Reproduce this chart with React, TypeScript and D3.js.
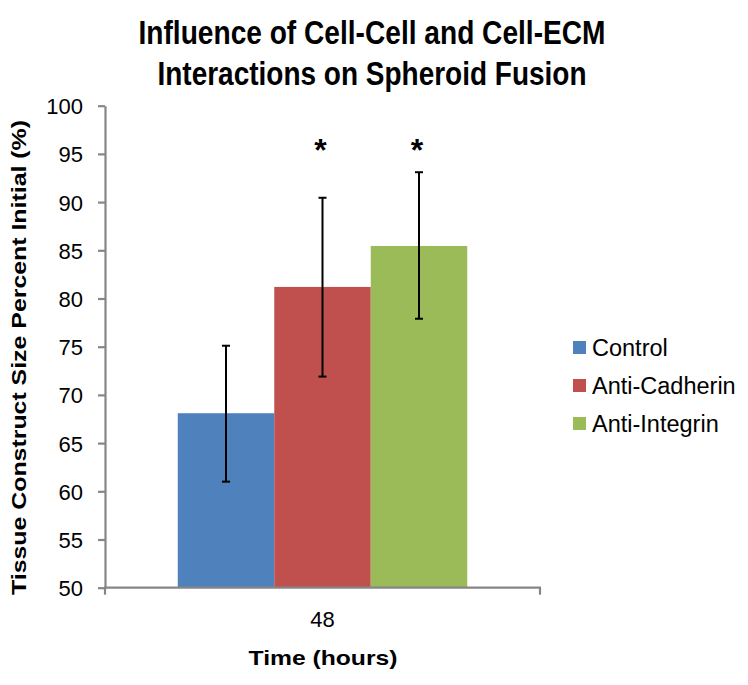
import React, { useEffect, useRef } from "react";
import * as d3 from "d3";

const categories = ["48"];
const seriesNames = ["Control", "Anti-Cadherin", "Anti-Integrin"];
const seriesColors = ["#4F81BD", "#C0504D", "#9BBB59"];
const meanValues = [68.1, 81.2, 85.45];
const errUpper = [75.1, 90.45, 93.1];
const errLower = [61.0, 71.9, 77.9];
const significant = [false, true, true];
const yTicks = [50, 55, 60, 65, 70, 75, 80, 85, 90, 95, 100];
const titleLines = ["Influence of Cell-Cell and Cell-ECM", "Interactions on Spheroid Fusion"];
const yAxisTitle = "Tissue Construct Size Percent Initial  (%)";
const xAxisTitle = "Time (hours)";

const FONT = "'Liberation Sans', Arial, Helvetica, sans-serif";

export default function App() {
  const ref = useRef<SVGSVGElement | null>(null);

  useEffect(() => {
    const svg = d3.select(ref.current);
    svg.selectAll("*").remove();

    const left = 105, right = 540, top = 105.7, bottom = 587.7;
    const y = d3.scaleLinear().domain([50, 100]).range([bottom, top]);
    const x0 = d3.scaleBand<string>().domain(categories).range([left, right]).padding(0);
    const x1 = d3
      .scaleBand<string>()
      .domain(seriesNames)
      .range([0, x0.bandwidth()])
      .paddingInner(0)
      .paddingOuter(0.754);

    // Title
    const titleLens = [467, 429];
    const titleBase = [44, 85];
    titleLines.forEach((t, i) => {
      svg
        .append("text")
        .attr("x", 372)
        .attr("y", titleBase[i])
        .attr("text-anchor", "middle")
        .attr("font-family", FONT)
        .attr("font-weight", "bold")
        .attr("font-size", 33)
        .attr("textLength", titleLens[i])
        .attr("lengthAdjust", "spacingAndGlyphs")
        .attr("fill", "#000")
        .text(t);
    });

    // Bars
    const g = svg.append("g");
    categories.forEach((c) => {
      seriesNames.forEach((s, i) => {
        const bx = (x0(c) as number) + (x1(s) as number);
        g.append("rect")
          .attr("x", bx)
          .attr("y", y(meanValues[i]))
          .attr("width", x1.bandwidth())
          .attr("height", y(50) - y(meanValues[i]))
          .attr("fill", seriesColors[i]);
      });
    });

    // Y axis
    const yAxis = d3
      .axisLeft(y)
      .tickValues(yTicks)
      .tickSize(7)
      .tickSizeOuter(0)
      .tickPadding(15)
      .tickFormat((d) => String(d));
    const yg = svg.append("g").attr("transform", `translate(${left},0)`).call(yAxis);
    yg.select(".domain").attr("stroke", "#868686").attr("stroke-width", 2.2);
    yg.selectAll(".tick line").attr("stroke", "#868686").attr("stroke-width", 2.2);
    yg.selectAll(".tick text")
      .attr("font-family", FONT)
      .attr("font-size", 22)
      .attr("fill", "#000")
      .attr("dy", "0.36em");

    // X axis
    svg
      .append("line")
      .attr("x1", left - 1)
      .attr("x2", right + 1)
      .attr("y1", bottom)
      .attr("y2", bottom)
      .attr("stroke", "#868686")
      .attr("stroke-width", 2.2);
    const bounds = [x0(categories[0]) as number, (x0(categories[categories.length - 1]) as number) + x0.bandwidth()];
    bounds.forEach((bx) => {
      svg
        .append("line")
        .attr("x1", bx)
        .attr("x2", bx)
        .attr("y1", bottom)
        .attr("y2", bottom + 7)
        .attr("stroke", "#868686")
        .attr("stroke-width", 2.2);
    });
    categories.forEach((c) => {
      svg
        .append("text")
        .attr("x", (x0(c) as number) + x0.bandwidth() / 2)
        .attr("y", 626.5)
        .attr("text-anchor", "middle")
        .attr("font-family", FONT)
        .attr("font-size", 22)
        .attr("fill", "#000")
        .text(c);
    });

    // Error bars
    categories.forEach((c) => {
      seriesNames.forEach((s, i) => {
        const cx = (x0(c) as number) + (x1(s) as number) + x1.bandwidth() / 2;
        const eg = svg.append("g").attr("stroke", "#000").attr("stroke-width", 2);
        eg.append("line").attr("x1", cx).attr("x2", cx).attr("y1", y(errUpper[i])).attr("y2", y(errLower[i]));
        [errUpper[i], errLower[i]].forEach((v) => {
          eg.append("line")
            .attr("x1", cx - 4)
            .attr("x2", cx + 4)
            .attr("y1", y(v))
            .attr("y2", y(v));
        });
        if (significant[i]) {
          svg
            .append("text")
            .attr("x", cx - 2)
            .attr("y", 161)
            .attr("text-anchor", "middle")
            .attr("font-family", FONT)
            .attr("font-weight", "bold")
            .attr("font-size", 32)
            .attr("fill", "#000")
            .text("*");
        }
      });
    });

    // Axis titles
    svg
      .append("text")
      .attr("transform", `translate(26,357.5) rotate(-90)`)
      .attr("text-anchor", "middle")
      .attr("font-family", FONT)
      .attr("font-weight", "bold")
      .attr("font-size", 20)
      .attr("textLength", 475)
      .attr("lengthAdjust", "spacingAndGlyphs")
      .attr("fill", "#000")
      .text(yAxisTitle);

    svg
      .append("text")
      .attr("x", 323)
      .attr("y", 665)
      .attr("text-anchor", "middle")
      .attr("font-family", FONT)
      .attr("font-weight", "bold")
      .attr("font-size", 21)
      .attr("textLength", 149)
      .attr("lengthAdjust", "spacingAndGlyphs")
      .attr("fill", "#000")
      .text(xAxisTitle);

    // Legend
    const legendY = d3.scalePoint<string>().domain(seriesNames).range([347.5, 423.5]);
    seriesNames.forEach((s, i) => {
      const cy = legendY(s) as number;
      svg
        .append("rect")
        .attr("x", 573)
        .attr("y", cy - 6.5)
        .attr("width", 13)
        .attr("height", 13)
        .attr("fill", seriesColors[i]);
      svg
        .append("text")
        .attr("x", 592)
        .attr("y", cy + 8.5)
        .attr("font-family", FONT)
        .attr("font-size", 23.5)
        .attr("fill", "#000")
        .text(s);
    });
  }, []);

  return (
    <svg
      ref={ref}
      width={748}
      height={685}
      style={{ position: "absolute", left: 0, top: 0, background: "#fff" }}
    />
  );
}
